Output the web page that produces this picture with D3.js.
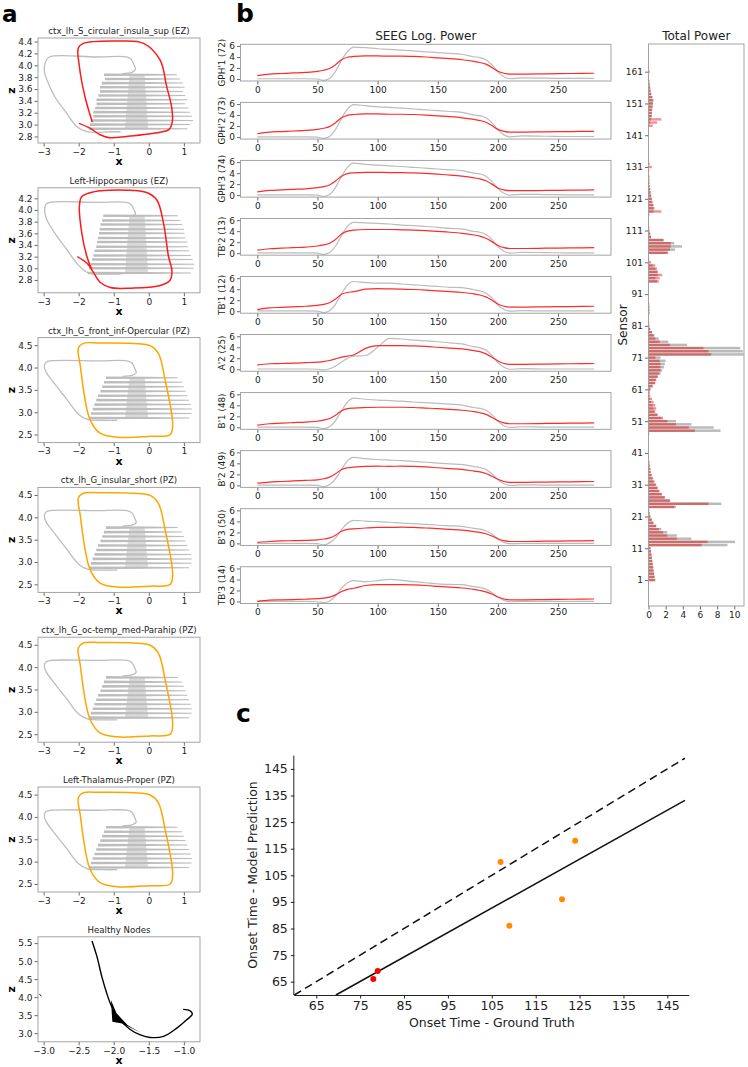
<!DOCTYPE html>
<html><head><meta charset="utf-8">
<script src="https://cdn.jsdelivr.net/npm/d3@7"></script>
<style>body{margin:0;background:#fff}svg{display:block;font-family:"DejaVu Sans",sans-serif}</style>
</head><body><script>
// ================= DATA =================
// ---- panel a : phase-plane trajectories ----
const phaseTitles = ["ctx_lh_S_circular_insula_sup (EZ)","Left-Hippocampus (EZ)","ctx_lh_G_front_inf-Opercular (PZ)","ctx_lh_G_insular_short (PZ)","ctx_lh_G_oc-temp_med-Parahip (PZ)","Left-Thalamus-Proper (PZ)","Healthy Nodes"];
const phaseRoles = ["EZ","EZ","PZ","PZ","PZ","PZ","HZ"];
const phaseXTicks = [[-3,-2,-1,0,1],[-3,-2,-1,0,1],[-3,-2,-1,0,1],[-3,-2,-1,0,1],[-3,-2,-1,0,1],[-3,-2,-1,0,1],[-3.0,-2.5,-2.0,-1.5,-1.0]];
const phaseYTicks = [[2.8,3.0,3.2,3.4,3.6,3.8,4.0,4.2,4.4],[2.8,3.0,3.2,3.4,3.6,3.8,4.0,4.2],[2.5,3.0,3.5,4.0,4.5],[2.5,3.0,3.5,4.0,4.5],[2.5,3.0,3.5,4.0,4.5],[2.5,3.0,3.5,4.0,4.5],[3.0,3.5,4.0,4.5,5.0,5.5]];
const phaseXLim = [[-3.16,1.46],[-3.16,1.46],[-3.16,1.46],[-3.16,1.46],[-3.16,1.46],[-3.16,1.46],[-3.08,-0.77]];
const phaseYLim = [[2.69,4.46],[2.58,4.38],[2.32,4.67],[2.32,4.67],[2.32,4.67],[2.32,4.67],[2.76,5.675]];

// gray (healthy-like) outline trajectories [x, z]
const grayOutlineEZ1 = [[-0.80,2.88],[-1.10,2.88],[-1.77,2.88],[-2.06,2.97],[-2.34,3.19],[-2.68,3.47],[-2.91,3.76],[-2.98,3.90],[-2.95,4.05],[-2.84,4.14],[-1.50,4.14],[-0.63,4.14],[-0.50,4.10],[-0.42,4.00],[-0.38,3.93],[-0.48,3.88],[-0.75,3.86]];
const grayOutlineEZ2 = [[-0.80,2.90],[-1.20,2.90],[-1.72,2.92],[-2.00,3.05],[-2.35,3.33],[-2.70,3.62],[-2.92,3.85],[-2.97,3.98],[-2.94,4.09],[-2.83,4.13],[-1.50,4.13],[-0.63,4.13],[-0.50,4.09],[-0.42,4.00],[-0.38,3.93],[-0.48,3.90],[-0.75,3.89]];
const grayOutlinePZ = [[-0.90,2.82],[-1.30,2.82],[-1.75,2.84],[-2.00,2.95],[-2.35,3.30],[-2.70,3.65],[-2.93,3.90],[-2.98,4.03],[-2.93,4.12],[-2.80,4.15],[-1.50,4.15],[-0.62,4.15],[-0.48,4.10],[-0.40,3.98],[-0.36,3.88],[-0.46,3.83],[-0.75,3.80]];
// gray comb oscillations [z, xStart, xEnd]
const grayCombEZ1 = [[3.84,-1.28,0.80],[3.77,-1.25,0.89],[3.70,-1.34,0.97],[3.63,-1.39,1.02],[3.56,-1.39,0.97],[3.49,-1.44,1.04],[3.42,-1.49,1.11],[3.35,-1.49,1.04],[3.28,-1.53,1.13],[3.21,-1.58,1.18],[3.14,-1.58,1.23],[3.07,-1.63,1.26],[3.00,-1.68,1.18],[2.93,-1.70,1.10]];
const grayCombEZ2 = [[3.90,-1.30,0.83],[3.82,-1.33,0.90],[3.75,-1.38,0.95],[3.67,-1.40,1.00],[3.60,-1.42,1.02],[3.52,-1.45,1.05],[3.45,-1.48,1.10],[3.37,-1.50,1.12],[3.30,-1.55,1.15],[3.22,-1.58,1.20],[3.15,-1.62,1.25],[3.07,-1.66,1.30],[3.00,-1.70,1.28],[2.92,-1.74,1.20]];
const grayCombPZ = [[3.77,-1.22,0.82],[3.67,-1.28,0.95],[3.57,-1.33,1.00],[3.47,-1.38,1.05],[3.37,-1.45,1.10],[3.27,-1.50,1.15],[3.17,-1.55,1.20],[3.07,-1.60,1.23],[2.97,-1.65,1.22],[2.87,-1.70,1.15]];
// coloured seizure trajectories [x, z]
const ezPath1 = [[-1.99,3.02],[-1.68,2.94],[-1.39,2.83],[-1.11,2.78],[-0.63,2.80],[0.32,2.87],[0.58,2.92],[0.67,3.05],[0.65,3.30],[0.51,3.64],[0.32,4.09],[-0.15,4.37],[-0.82,4.41],[-1.87,4.37],[-2.01,4.29],[-1.98,3.98],[-1.82,3.47],[-1.61,3.04]];
const ezPath2 = [[-2.04,3.20],[-1.77,3.09],[-1.60,2.95],[-1.39,2.76],[-1.10,2.67],[-0.50,2.66],[0.30,2.70],[0.60,2.79],[0.66,2.95],[0.56,3.21],[0.42,3.77],[0.23,4.17],[-0.06,4.30],[-0.63,4.34],[-1.58,4.31],[-1.91,4.23],[-1.98,4.06],[-1.91,3.60],[-1.77,3.21],[-1.62,2.97]];
const pzLoop = [[-2.01,4.43],[-1.87,4.54],[-1.39,4.55],[-0.44,4.54],[0.04,4.49],[0.27,4.32],[0.47,3.70],[0.68,2.72],[0.61,2.50],[0.04,2.46],[-0.91,2.44],[-1.39,2.53],[-1.68,2.84],[-1.96,4.07]];
const healthyPath = [[-2.31,5.56],[-2.24,5.13],[-2.17,4.57],[-2.10,4.11],[-2.03,3.74],[-1.91,3.37],[-1.77,3.11],[-1.62,2.95],[-1.48,2.88],[-1.29,2.91],[-1.10,3.14],[-0.96,3.37],[-0.88,3.53],[-0.91,3.62],[-1.01,3.66]];
const healthyWedge = [[-2.04,3.92],[-2.02,3.32],[-1.88,3.27],[-1.62,3.02],[-1.80,3.22],[-1.96,3.55]];
const healthyDot = [[-3.06,4.08],[-3.03,4.03]];

// ---- panel b : SEEG log power ----
const seegTime = [0,10,20,30,40,50,55,60,65,70,75,80,90,100,110,120,130,140,150,160,170,180,185,190,195,200,205,210,220,240,260,280];
const seegSensors = ["GPH'1 (72)","GPH'2 (73)","GPH'3 (74)","TB'2 (13)","TB'1 (12)","A'2 (25)","B'1 (48)","B'2 (49)","B'3 (50)","TB'3 (14)"];
const seegEmpirical = [
 [0.05,0.05,0.05,0.05,0.05,0.0,-0.25,0.1,1.4,3.4,5.0,5.8,5.7,5.5,5.4,5.25,5.1,4.95,4.8,4.65,4.5,4.05,3.9,3.5,2.6,1.3,0.4,0.05,0.2,0.15,0.1,0.1],
 [0.05,0.05,0.05,0.05,0.05,0.0,-0.25,0.1,1.4,3.4,5.1,5.9,5.7,5.5,5.4,5.25,5.1,4.95,4.8,4.65,4.5,4.0,3.9,3.5,2.6,1.3,0.4,0.05,0.2,0.15,0.1,0.1],
 [0.05,0.05,0.05,0.05,0.05,0.0,-0.25,0.1,1.4,3.4,5.1,5.8,5.6,5.45,5.3,5.2,5.05,4.9,4.75,4.6,4.45,4.0,3.85,3.45,2.5,1.2,0.35,0.0,0.15,0.1,0.05,0.05],
 [0.05,0.05,0.05,0.05,0.05,0.0,-0.25,0.1,1.3,3.2,4.9,5.6,5.5,5.4,5.3,5.1,5.0,4.85,4.7,4.5,4.4,3.95,3.8,3.4,2.5,1.2,0.35,0.0,0.15,0.1,0.05,0.05],
 [0.05,0.05,0.05,0.05,0.05,0.0,-0.25,0.1,1.3,3.2,4.8,5.4,5.2,5.1,5.1,4.95,4.8,4.65,4.5,4.35,4.3,3.9,3.7,3.3,2.4,1.1,0.3,0.0,0.1,0.05,0.05,0.05],
 [0.05,0.05,0.05,0.05,0.05,0.0,-0.1,0.1,0.6,1.3,2.0,2.4,2.5,4.0,5.6,5.5,5.3,5.15,5.0,4.8,4.6,4.1,3.9,3.5,2.5,1.2,0.35,0.0,0.1,0.05,0.05,0.05],
 [0.05,0.05,0.05,0.05,0.05,0.0,-0.25,0.1,1.2,3.0,4.6,5.3,5.1,4.95,4.85,4.75,4.6,4.5,4.35,4.2,4.05,3.6,3.45,3.1,2.3,1.1,0.3,0.0,0.1,0.05,0.05,0.05],
 [0.05,0.05,0.05,0.05,0.05,0.0,-0.25,0.1,1.2,2.9,4.5,5.1,4.85,4.7,4.6,4.5,4.35,4.2,4.05,3.9,3.8,3.4,3.25,2.9,2.1,1.0,0.3,0.0,0.1,0.05,0.05,0.05],
 [0.0,0.0,0.0,0.0,0.0,-0.05,-0.25,0.1,1.0,2.5,3.7,4.2,4.05,3.95,3.85,3.7,3.6,3.45,3.3,3.2,3.1,2.75,2.6,2.3,1.7,0.8,0.2,-0.05,0.0,0.0,0.0,0.0],
 [0.0,0.0,0.0,0.0,0.0,-0.05,-0.2,0.1,1.0,2.4,3.4,3.8,3.6,3.8,4.0,3.85,3.6,3.4,3.2,3.1,3.05,2.7,2.55,2.25,1.6,0.8,0.2,-0.05,0.0,0.0,0.0,0.0]
];
const seegModel = [
 [0.6,0.9,1.0,1.1,1.2,1.4,1.6,1.9,2.6,3.5,3.95,4.1,4.2,4.2,4.15,4.15,4.1,4.0,3.85,3.7,3.5,3.2,3.0,2.7,2.1,1.4,1.05,0.9,0.9,0.95,1.0,1.05],
 [0.6,0.9,1.0,1.1,1.2,1.4,1.6,1.9,2.6,3.5,3.95,4.1,4.2,4.2,4.15,4.15,4.1,4.0,3.85,3.7,3.5,3.2,3.0,2.7,2.1,1.4,1.05,0.9,0.9,0.95,1.0,1.05],
 [0.6,0.85,0.95,1.05,1.15,1.35,1.55,1.85,2.55,3.45,3.9,4.05,4.15,4.15,4.1,4.1,4.05,3.95,3.8,3.65,3.45,3.15,2.95,2.6,2.0,1.3,0.95,0.8,0.8,0.85,0.9,0.95],
 [0.55,0.8,0.9,1.0,1.1,1.3,1.5,1.8,2.5,3.5,4.0,4.2,4.3,4.3,4.3,4.25,4.2,4.1,3.95,3.8,3.6,3.3,3.1,2.7,2.1,1.4,1.0,0.85,0.85,0.9,0.95,1.0],
 [0.3,0.6,0.7,0.8,0.9,1.05,1.25,1.55,2.2,3.1,3.4,3.55,4.0,4.1,4.05,4.0,3.95,3.85,3.7,3.55,3.4,3.15,2.95,2.6,2.0,1.3,0.9,0.75,0.75,0.8,0.85,0.9],
 [0.8,1.0,1.05,1.1,1.2,1.3,1.4,1.6,1.9,2.2,2.4,2.6,3.8,4.3,4.3,4.3,4.25,4.15,4.0,3.85,3.7,3.4,3.2,2.8,2.2,1.5,1.05,0.9,0.9,0.95,1.0,1.05],
 [0.4,0.65,0.75,0.85,0.95,1.1,1.3,1.6,2.2,3.0,3.4,3.5,3.6,3.65,3.65,3.65,3.6,3.5,3.4,3.25,3.1,2.85,2.65,2.35,1.8,1.2,0.8,0.65,0.65,0.7,0.75,0.8],
 [0.4,0.6,0.7,0.8,0.9,1.0,1.2,1.5,2.1,2.9,3.2,3.3,3.45,3.5,3.45,3.5,3.45,3.35,3.2,3.05,2.9,2.6,2.45,2.15,1.65,1.1,0.7,0.55,0.55,0.6,0.65,0.7],
 [0.2,0.35,0.45,0.5,0.55,0.65,0.8,1.0,1.5,2.2,2.55,2.65,2.8,2.9,2.9,2.95,2.9,2.8,2.7,2.55,2.4,2.15,2.0,1.75,1.35,0.85,0.5,0.35,0.35,0.4,0.45,0.5],
 [0.0,0.25,0.3,0.35,0.4,0.5,0.6,0.8,1.2,1.8,2.2,2.4,2.9,3.05,3.05,3.05,3.0,2.9,2.75,2.6,2.45,2.2,2.0,1.75,1.35,0.8,0.45,0.3,0.3,0.35,0.4,0.45]
];
const seegXTicks = [0,50,100,150,200,250];
const seegYTicks = [0,2,4,6];

// ---- panel b : total power per sensor (sensor 1..161) ----
const powerEmpirical = [
 0.75,0.7,0.65,0.6,0.55,0.5,0.45,0.4,0.35,0.3,      // 1-10
 0.2,9.2,10.1,5.0,3.3,2.2,1.5,0.9,0.55,0.35,         // 11-20
 0.2,0.1,0.05,3.2,8.5,2.5,1.9,1.5,1.2,1.0,           // 21-30
 0.8,0.6,0.45,0.3,0.2,0.15,0.1,0.05,0,0,             // 31-40
 0,0,0,0,0,0,0,8.4,7.6,5.0,                          // 41-50
 3.2,1.5,1.0,0.7,0.6,0.5,0.3,0.2,0.1,0.1,            // 51-60
 0.2,0.45,0.75,0.85,1.05,1.4,1.6,1.8,1.9,2.0,        // 61-70
 1.4,11.1,11.0,10.7,4.5,2.3,1.2,0.7,0.4,0.2,         // 71-80
 0.1,0,0,0,0,0,0,0,0,0,                              // 81-90
 0,0,0,0,1.0,0.8,1.1,1.0,0.8,0.5,                    // 91-100
 0.1,0.05,0,2.3,3.1,3.9,3.0,1.8,0.3,0.2,             // 101-110
 0.1,0.05,0.05,0.05,0.05,0.1,0.6,0.6,0.5,0.4,        // 111-120
 0.35,0.3,0.25,0.2,0.15,0.12,0.1,0.1,0.05,0.05,      // 121-130
 0.05,0,0,0,0,0,0,0,0,0,                             // 131-140
 0,0,0,0.1,0.2,0.3,0.4,0.4,0.45,0.5,                 // 141-150
 0.55,0.6,0.5,0.35,0.25,0.2,0.15,0.1,0.05,0,         // 151-160
 0                                                    // 161
];
const powerModel = [
 0.8,0.7,0.65,0.6,0.55,0.5,0.45,0.4,0.35,0.3,
 0.25,6.2,6.9,3.3,2.2,1.7,1.2,0.9,0.6,0.4,
 0.25,0.15,0.1,3.0,7.0,2.5,1.9,1.6,1.3,1.1,
 0.9,0.7,0.55,0.4,0.3,0.25,0.2,0.15,0.05,0.03,
 0.02,0.02,0.02,0.02,0.03,0.05,0.1,5.4,4.7,3.2,
 2.2,1.7,1.1,0.8,0.9,0.8,0.6,0.4,0.2,0.15,
 0.25,0.5,0.8,0.9,1.1,1.25,1.4,1.4,1.4,1.3,
 0.8,7.3,7.0,6.4,2.5,1.3,0.8,0.6,0.4,0.2,
 0.1,0.1,0.05,0.05,0.15,0.15,0.15,0.1,0.05,0.05,
 0.05,0.05,0.05,0.05,1.2,1.3,1.6,1.1,1.0,0.8,
 0.3,0.1,0.05,2.2,2.5,2.6,2.6,1.7,0.3,0.2,
 0.1,0.1,0.05,0.05,0.05,0.1,1.5,0.7,0.6,0.5,
 0.4,0.3,0.25,0.2,0.15,0.12,0.1,0.1,0.05,0.1,
 0.4,0.15,0.05,0,0,0,0,0,0,0,
 0.05,0.05,0.05,0.5,1.0,1.5,0.35,0.4,0.4,0.45,
 0.5,0.5,0.4,0.3,0.25,0.2,0.15,0.1,0.05,0,
 0.15
];
const powerXTicks = [0,2,4,6,8,10];
const sensorTicks = [1,11,21,31,41,51,61,71,81,91,101,111,121,131,141,151,161];

// ---- panel c : onset times ----
const onsetTruth = [78,79,107,109,121,124];
const onsetPred  = [66,69,110,86,96,118];
const onsetRole  = ["EZ","EZ","PZ","PZ","PZ","PZ"];
const onsetTicks = [65,75,85,95,105,115,125,135,145];

// ================= DRAWING =================
const roleColor = {EZ:"#ff1a1a", PZ:"#ffa500", HZ:"#000"};
const svg = d3.select("body").append("svg").attr("width",748).attr("height",1067);
const FONT = "DejaVu Sans, sans-serif";
let clipId = 0;

function frameAxes(g, x, y, opt){
  const [x0,x1] = x.range(), [y0,y1] = y.range();
  const fs = opt.fs || 9, tl = opt.tickLen || 3.5, tcol = opt.tickColor || "#444";
  const xa = d3.axisBottom(x).tickValues(opt.xTicks).tickSize(tl).tickPadding(2).tickFormat(opt.xFmt);
  const ya = d3.axisLeft(y).tickValues(opt.yTicks).tickSize(tl).tickPadding(2).tickFormat(opt.yFmt);
  const gx = g.append("g").attr("transform",`translate(0,${y0})`).call(xa);
  const gy = g.append("g").attr("transform",`translate(${x0},0)`).call(ya);
  [gx,gy].forEach(a=>{
    a.select(".domain").remove();
    a.selectAll(".tick line").attr("stroke",tcol).attr("stroke-width",0.8);
    a.selectAll(".tick text").attr("fill","#222").style("font-size",fs+"px").style("font-family",FONT);
  });
  if(opt.box!==false){
    g.append("rect").attr("x",x0).attr("y",y1).attr("width",x1-x0).attr("height",y0-y1)
      .attr("fill","none").attr("stroke",opt.frameColor||"#9a9a9a").attr("stroke-width",0.9);
  }
}
function makeClip(x,y){
  const id = "clip"+(clipId++);
  const [x0,x1]=x.range(),[y0,y1]=y.range();
  svg.append("clipPath").attr("id",id).append("rect").attr("x",x0).attr("y",y1).attr("width",x1-x0).attr("height",y0-y1);
  return `url(#${id})`;
}

// ---------- panel a ----------
svg.append("text").attr("x",2).attr("y",21.5).text("a").style("font-size","23px").style("font-weight","bold").style("font-family",FONT);
const aLeft=38, aRight=200, aTop0=38, aStep=149.8, aH=105;
const grayOutlines = [grayOutlineEZ1, grayOutlineEZ2, grayOutlinePZ, grayOutlinePZ, grayOutlinePZ, grayOutlinePZ];
const grayCombs = [grayCombEZ1, grayCombEZ2, grayCombPZ, grayCombPZ, grayCombPZ, grayCombPZ];
const colPaths = [ezPath1, ezPath2, pzLoop, pzLoop, pzLoop, pzLoop];
phaseTitles.forEach((title,i)=>{
  const top = aTop0 + i*aStep, bottom = top + aH;
  const x = d3.scaleLinear().domain(phaseXLim[i]).range([aLeft,aRight]);
  const y = d3.scaleLinear().domain(phaseYLim[i]).range([bottom,top]);
  const g = svg.append("g");
  const pg = g.append("g").attr("clip-path", makeClip(x,y));
  const line = d3.line().x(d=>x(d[0])).y(d=>y(d[1]));
  if(phaseRoles[i] !== "HZ"){
    const comb = grayCombs[i];
    const zTop = comb[0][0], zBot = comb[comb.length-1][0];
    // dense oscillation column
    pg.append("path").attr("d", line([[-0.55,zTop],[-0.12,zTop],[-0.02,zBot],[-0.68,zBot]])+"Z")
      .attr("fill","#dadada");
    // each comb line: tapering band
    comb.forEach(c=>{
      const yc = y(c[0]), xs = x(c[1]), xm = x(-0.05), xe = x(c[2]);
      const pts = [[xs,yc-1.3],[xm,yc-1.0],[xe,yc-0.5],[xe,yc+0.5],[xm,yc+1.0],[xs,yc+1.3]];
      pg.append("path").attr("d", d3.line()(pts)+"Z").attr("fill","#bdbdbd");
    });
    pg.append("path").attr("d", line.curve(d3.curveCatmullRom.alpha(0.5))(grayOutlines[i]))
      .attr("fill","none").attr("stroke","#bdbdbd").attr("stroke-width",1.3);
    const cl = d3.line().x(d=>x(d[0])).y(d=>y(d[1]))
      .curve(phaseRoles[i]==="PZ" ? d3.curveCatmullRomClosed.alpha(0.5) : d3.curveCatmullRom.alpha(0.5));
    pg.append("path").attr("d", cl(colPaths[i])).attr("fill","none")
      .attr("stroke", roleColor[phaseRoles[i]]).attr("stroke-width",1.5);
  } else {
    pg.append("path").attr("d", line(healthyWedge)+"Z").attr("fill","#000");
    pg.append("path").attr("d", d3.line().x(d=>x(d[0])).y(d=>y(d[1])).curve(d3.curveCatmullRom.alpha(0.5))(healthyPath))
      .attr("fill","none").attr("stroke","#000").attr("stroke-width",1.4);
    pg.append("path").attr("d", line(healthyDot)).attr("stroke","#000").attr("stroke-width",1);
  }
  frameAxes(g, x, y, {xTicks:phaseXTicks[i], yTicks:phaseYTicks[i],
    xFmt: i===6 ? d3.format(".1f") : d3.format("d"), yFmt: d3.format(".1f"), fs:9});
  g.append("text").attr("x",(aLeft+aRight)/2).attr("y",top-4).attr("text-anchor","middle")
    .text(title).style("font-size","8.6px").attr("fill","#222").style("font-family",FONT);
  g.append("text").attr("x",(aLeft+aRight)/2).attr("y",bottom+22).attr("text-anchor","middle")
    .text("x").style("font-size","11px").style("font-weight","bold").style("font-family",FONT);
  g.append("text").attr("transform",`translate(15,${(top+bottom)/2}) rotate(-90)`).attr("text-anchor","middle")
    .text("z").style("font-size","11px").style("font-weight","bold").style("font-family",FONT);
});

// ---------- panel b ----------
svg.append("text").attr("x",236).attr("y",22).text("b").style("font-size","25px").style("font-weight","bold").style("font-family",FONT);
const bLeft=240.5, bRight=611, bTop0=44.3, bStep=58.05, bH=36.7;
svg.append("text").attr("x",(bLeft+bRight)/2).attr("y",40).attr("text-anchor","middle")
  .text("SEEG Log. Power").style("font-size","12px").attr("fill","#222").style("font-family",FONT);
seegSensors.forEach((name,j)=>{
  const top = bTop0 + j*bStep, bottom = top + bH;
  const x = d3.scaleLinear().domain([-14,294]).range([bLeft,bRight]);
  const y = d3.scaleLinear().domain([-0.36,6.31]).range([bottom,top]);
  const g = svg.append("g");
  const ln = d3.line().x((d,k)=>x(seegTime[k])).y(d=>y(d)).curve(d3.curveMonotoneX);
  g.append("path").attr("d", ln(seegEmpirical[j])).attr("fill","none").attr("stroke","#bcbcbc").attr("stroke-width",1.2);
  g.append("path").attr("d", ln(seegModel[j])).attr("fill","none").attr("stroke","#ff2a2a").attr("stroke-width",1.2);
  frameAxes(g, x, y, {xTicks:seegXTicks, yTicks:seegYTicks, xFmt:d3.format("d"), yFmt:d3.format("d"), fs:9});
  g.append("text").attr("transform",`translate(225,${(top+bottom)/2}) rotate(-90)`).attr("text-anchor","middle")
    .text(name).style("font-size","8.8px").attr("fill","#222").style("font-family",FONT);
});

// total power
{
  const x = d3.scaleLinear().domain([0,10]).range([648.5,734.3]);
  const y = d3.scaleLinear().domain([1,161]).range([580,71.7]);
  const xr = d3.scaleLinear().domain([0, x.invert(744)]).range([648.5,744]);
  const yr = d3.scaleLinear().domain([y.invert(606), y.invert(44)]).range([606,44]);
  const g = svg.append("g");
  const bh = 2.5;
  g.selectAll("rect.emp").data(powerEmpirical).join("rect").attr("class","emp")
    .attr("x",x(0)).attr("y",(d,k)=>y(k+1)-bh/2).attr("width",d=>x(d)-x(0)).attr("height",bh)
    .attr("fill","#000").attr("fill-opacity",0.27);
  g.selectAll("rect.mod").data(powerModel).join("rect").attr("class","mod")
    .attr("x",x(0)).attr("y",(d,k)=>y(k+1)-bh/2).attr("width",d=>x(d)-x(0)).attr("height",bh)
    .attr("fill","#e00000").attr("fill-opacity",0.42);
  frameAxes(g, xr, yr, {xTicks:powerXTicks, yTicks:sensorTicks, xFmt:d3.format("d"), yFmt:d3.format("d"), fs:9});
  svg.append("text").attr("x",(648.5+744)/2).attr("y",40).attr("text-anchor","middle")
    .text("Total Power").style("font-size","12px").attr("fill","#222").style("font-family",FONT);
  svg.append("text").attr("transform",`translate(627,325) rotate(-90)`).attr("text-anchor","middle")
    .text("Sensor").style("font-size","12px").attr("fill","#222").style("font-family",FONT);
}

// ---------- panel c ----------
svg.append("text").attr("x",236).attr("y",722).text("c").style("font-size","25px").style("font-weight","bold").style("font-family",FONT);
{
  const x = d3.scaleLinear().domain([60,150]).range([294.3,689.3]);
  const y = d3.scaleLinear().domain([60,150]).range([995,755.6]);
  const g = svg.append("g");
  g.append("path").attr("d", d3.line()([[x(60),y(60)],[x(149),y(149)]]))
    .attr("stroke","#111").attr("stroke-width",1.5).attr("stroke-dasharray","8,4.6").attr("fill","none");
  const mx = d3.mean(onsetTruth), my = d3.mean(onsetPred);
  const slope = d3.sum(onsetTruth,(v,k)=>(v-mx)*(onsetPred[k]-my)) / d3.sum(onsetTruth,v=>(v-mx)*(v-mx));
  const icpt = my - slope*mx;
  const xs = (60-icpt)/slope;
  g.append("path").attr("d", d3.line()([[x(xs),y(60)],[x(149),y(icpt+slope*149)]]))
    .attr("stroke","#111").attr("stroke-width",1.5).attr("fill","none");
  g.selectAll("circle").data(onsetTruth).join("circle")
    .attr("cx",d=>x(d)).attr("cy",(d,k)=>y(onsetPred[k])).attr("r",3)
    .attr("fill",(d,k)=>onsetRole[k]==="EZ" ? "#ff0000" : "#ff8c00");
  const xa = d3.axisBottom(x).tickValues(onsetTicks).tickSize(3.5).tickPadding(3);
  const ya = d3.axisLeft(y).tickValues(onsetTicks).tickSize(3.5).tickPadding(3);
  const gx = g.append("g").attr("transform","translate(0,995)").call(xa);
  const gy = g.append("g").attr("transform","translate(294.3,0)").call(ya);
  [gx,gy].forEach(a=>{
    a.select(".domain").attr("stroke","#222").attr("stroke-width",1);
    a.selectAll(".tick line").attr("stroke","#222");
    a.selectAll(".tick text").attr("fill","#222").style("font-size","12.5px").style("font-family",FONT);
  });
  gx.select(".domain").attr("d",`M294.3,0.5H689.3`);
  gy.select(".domain").attr("d",`M-0.5,995V755.6`);
  g.append("text").attr("x",(294.3+689.3)/2).attr("y",1027).attr("text-anchor","middle")
    .text("Onset Time - Ground Truth").style("font-size","12.5px").attr("fill","#222").style("font-family",FONT);
  g.append("text").attr("transform",`translate(257,875) rotate(-90)`).attr("text-anchor","middle")
    .text("Onset Time - Model Prediction").style("font-size","12.5px").attr("fill","#222").style("font-family",FONT);
}
</script></body></html>
